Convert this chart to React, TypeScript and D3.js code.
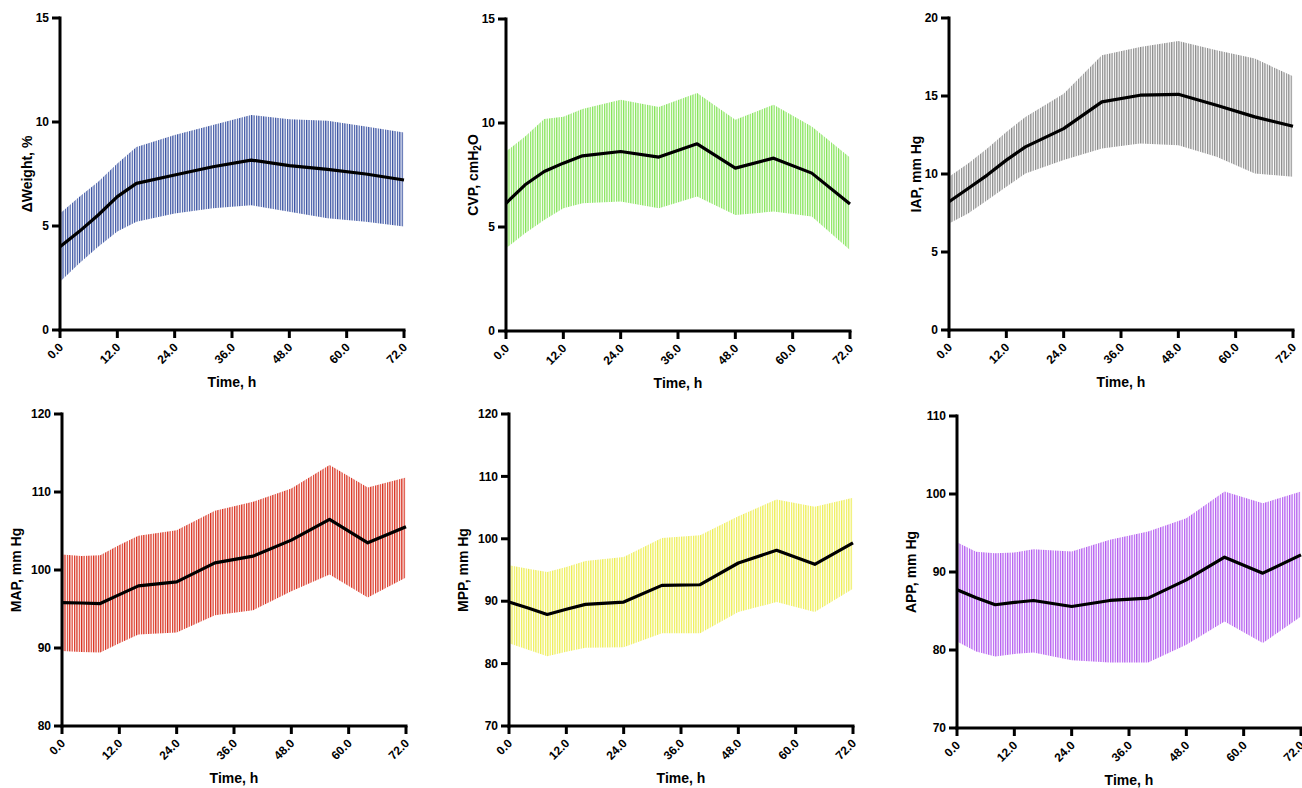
import React from 'react';
import * as d3 from 'd3';

// sampling times (h) for every series
const times = [0, 4, 8, 12, 16, 24, 32, 40, 48, 56, 64, 72];
const xTicks = [0, 12, 24, 36, 48, 60, 72];

// ΔWeight, %
const weightMean = [4.0, 4.73, 5.53, 6.41, 7.05, 7.45, 7.85, 8.17, 7.9, 7.72, 7.5, 7.21];
const weightUpper = [5.6, 6.4, 7.13, 8.0, 8.8, 9.38, 9.86, 10.34, 10.13, 10.06, 9.78, 9.49];
const weightLower = [2.32, 3.2, 4.0, 4.73, 5.2, 5.6, 5.85, 6.0, 5.69, 5.37, 5.2, 4.97];

// CVP, cmH2O
const cvpMean = [6.14, 7.03, 7.67, 8.07, 8.42, 8.63, 8.36, 9.0, 7.83, 8.31, 7.59, 6.11];
const cvpUpper = [8.63, 9.35, 10.19, 10.3, 10.67, 11.12, 10.77, 11.44, 10.16, 10.88, 9.83, 8.34];
const cvpLower = [3.98, 4.7, 5.34, 5.9, 6.14, 6.22, 5.9, 6.47, 5.58, 5.74, 5.5, 3.9];

// IAP, mm Hg
const iapMean = [8.22, 9.07, 9.93, 10.89, 11.74, 12.91, 14.62, 15.05, 15.11, 14.41, 13.66, 13.06];
const iapUpper = [9.82, 10.67, 11.63, 12.7, 13.66, 15.15, 17.61, 18.14, 18.53, 17.93, 17.4, 16.26];
const iapLower = [6.83, 7.47, 8.32, 9.18, 10.03, 10.89, 11.63, 11.95, 11.85, 11.1, 10.03, 9.82];

// MAP, mm Hg
const mapMean = [95.83, 95.77, 95.7, 96.84, 97.97, 98.48, 100.92, 101.78, 103.83, 106.48, 103.49, 105.54];
const mapUpper = [101.99, 101.8, 101.9, 103.2, 104.39, 105.11, 107.59, 108.75, 110.46, 113.45, 110.59, 111.87];
const mapLower = [89.63, 89.5, 89.41, 90.6, 91.72, 91.98, 94.2, 94.85, 97.28, 99.42, 96.47, 99.04];

// MPP, mm Hg
const mppMean = [89.86, 88.9, 87.88, 88.7, 89.49, 89.86, 92.54, 92.64, 96.12, 98.16, 95.91, 99.34];
const mppUpper = [95.75, 95.2, 94.68, 95.5, 96.45, 97.09, 100.14, 100.57, 103.62, 106.3, 105.12, 106.56];
const mppLower = [83.28, 82.2, 81.19, 81.9, 82.53, 82.63, 84.88, 84.88, 88.25, 89.86, 88.25, 92.0];

// APP, mm Hg
const appMean = [87.72, 86.7, 85.8, 86.1, 86.35, 85.58, 86.35, 86.65, 88.99, 91.9, 89.85, 92.2];
const appUpper = [93.82, 92.6, 92.41, 92.5, 92.92, 92.63, 94.12, 95.19, 96.89, 100.31, 98.82, 100.31];
const appLower = [81.1, 79.8, 79.18, 79.5, 79.69, 78.67, 78.41, 78.41, 80.67, 83.66, 80.89, 84.3];

const panels = [
  { key: 'wt', title: 'ΔWeight, %', domain: [0, 15], ticks: [0, 5, 10, 15], color: '#3a53a3', mean: weightMean, upper: weightUpper, lower: weightLower },
  { key: 'cvp', title: 'CVP, cmH2O', domain: [0, 15], ticks: [0, 5, 10, 15], color: '#86e45a', mean: cvpMean, upper: cvpUpper, lower: cvpLower },
  { key: 'iap', title: 'IAP, mm Hg', domain: [0, 20], ticks: [0, 5, 10, 15, 20], color: '#8c8c8c', mean: iapMean, upper: iapUpper, lower: iapLower },
  { key: 'map', title: 'MAP, mm Hg', domain: [80, 120], ticks: [80, 90, 100, 110, 120], color: '#d9311f', mean: mapMean, upper: mapUpper, lower: mapLower },
  { key: 'mpp', title: 'MPP, mm Hg', domain: [70, 120], ticks: [70, 80, 90, 100, 110, 120], color: '#eeee55', mean: mppMean, upper: mppUpper, lower: mppLower },
  { key: 'app', title: 'APP, mm Hg', domain: [70, 110], ticks: [70, 80, 90, 100, 110], color: '#b45cf0', mean: appMean, upper: appUpper, lower: appLower },
];

// plot origins (left edge = y axis, top = highest tick)
const origins = [
  [60, 18], [506, 19], [949, 18],
  [62, 414], [509, 414], [957, 416],
];

const W = 344;
const H = 312;
const font = '"Liberation Sans", Arial, Helvetica, sans-serif';

function Title({ text }: { text: string }) {
  if (text.includes('H2O')) {
    return (
      <>
        CVP, cmH<tspan baselineShift="-25%" fontSize="10">2</tspan>O
      </>
    );
  }
  return <>{text}</>;
}

function Panel({ p, left, top }: any) {
  const x = d3.scaleLinear().domain([0, 72]).range([0, W]);
  const y = d3.scaleLinear().domain(p.domain).range([H, 0]);
  const area = d3
    .area<number>()
    .x((_, i) => x(times[i]))
    .y0((_, i) => y(p.lower[i]))
    .y1((d) => y(d));
  const line = d3
    .line<number>()
    .x((_, i) => x(times[i]))
    .y((d) => y(d));
  const step = W / 144;
  const maxLen = d3.max(p.ticks, (t: number) => String(t).length) as number;
  const titleX = -(7 + 13 * maxLen);

  return (
    <g transform={`translate(${left},${top})`} fontFamily={font} fontWeight="bold">
      <defs>
        <pattern id={`st-${p.key}`} patternUnits="userSpaceOnUse" x={0} y={0} width={step} height={8}>
          <rect x={0} y={0} width={1.25} height={8} fill={p.color} />
        </pattern>
      </defs>
      <path d={area(p.upper) as string} fill={`url(#st-${p.key})`} />
      <path d={line(p.mean) as string} fill="none" stroke="#000" strokeWidth={3.2} strokeLinejoin="round" />

      {/* y axis */}
      <line x1={0} x2={0} y1={-1.5} y2={H + 1.5} stroke="#000" strokeWidth={3} />
      {p.ticks.map((t: number) => (
        <g key={t} transform={`translate(0,${y(t)})`}>
          <line x1={-8} x2={0} stroke="#000" strokeWidth={3} />
          <text x={-11} dy="0.35em" textAnchor="end" fontSize={12}>
            {t}
          </text>
        </g>
      ))}
      <text
        transform={`translate(${titleX},${H / 2}) rotate(-90)`}
        textAnchor="middle"
        dy="0.35em"
        fontSize={14}
      >
        <Title text={p.title} />
      </text>

      {/* x axis */}
      <line x1={-1.5} x2={W + 1.5} y1={H} y2={H} stroke="#000" strokeWidth={3} />
      {xTicks.map((t) => (
        <g key={t} transform={`translate(${x(t)},${H})`}>
          <line y1={0} y2={8} stroke="#000" strokeWidth={3} />
          <text transform="translate(4,18) rotate(-45)" textAnchor="end" fontSize={12}>
            {t.toFixed(1)}
          </text>
        </g>
      ))}
      <text x={W / 2} y={H + 57} textAnchor="middle" fontSize={14}>
        Time, h
      </text>
    </g>
  );
}

export default function App() {
  return (
    <svg
      width={1302}
      height={788}
      style={{ position: 'absolute', left: 0, top: 0, background: '#fff' }}
    >
      {panels.map((p, i) => (
        <Panel key={p.key} p={p} left={origins[i][0]} top={origins[i][1]} />
      ))}
    </svg>
  );
}
